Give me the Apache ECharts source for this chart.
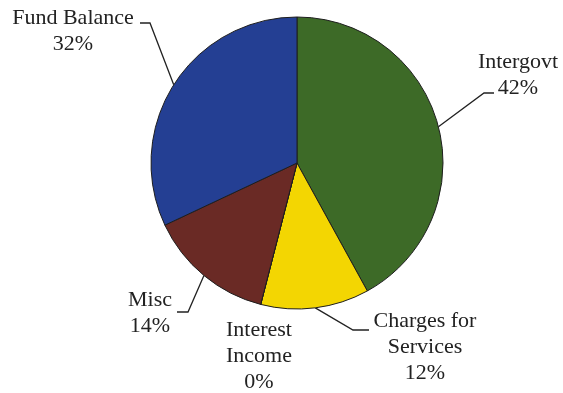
<!DOCTYPE html>
<html>
<head>
<meta charset="utf-8">
<script src="https://cdn.jsdelivr.net/npm/echarts@6/dist/echarts.min.js"></script>
<style>
  html, body { margin: 0; padding: 0; background: #fff; }
  #chart { width: 563px; height: 393px; }
</style>
</head>
<body>
<div id="chart"></div>
<script>
// slices, clockwise from 12 o'clock
const categories = ['Intergovt', 'Charges for\nServices', 'Interest\nIncome', 'Misc', 'Fund Balance'];
const values = [42, 12, 0, 14, 32];
const colors = ['#3d6a27', '#f3d602', '#f3d602', '#6a2a25', '#243f93'];

// where each label sits (block centre) and where its leader meets it
const labelCenter = [[518, 75], [425, 347], [259, 356], [150, 313], [73, 31]];
const leaderEnd = [[-24, 18], [-56, -17], null, [27, -1], [67, -8]];
const elbow = [-10, -16, 0, 11, 10];

let chart = echarts.init(document.getElementById('chart'));

chart.setOption({
  animation: false,
  backgroundColor: '#fff',
  series: [
    {
      type: 'pie',
      center: [297, 163],
      radius: 146,
      startAngle: 90,
      clockwise: true,
      avoidLabelOverlap: false,
      itemStyle: {
        borderColor: '#1e1e1e',
        borderWidth: 1
      },
      label: {
        show: true,
        position: 'outside',
        fontFamily: '"Liberation Serif", "DejaVu Serif", serif',
        fontSize: 22,
        lineHeight: 26,
        color: '#222',
        align: 'center',
        formatter: function (p) {
          return p.name + '\n' + Math.round(p.percent) + '%';
        }
      },
      labelLine: {
        show: true,
        length: 10,
        length2: 10,
        lineStyle: { color: '#222', width: 1.3 }
      },
      labelLayout: function (params) {
        const i = params.dataIndex;
        const c = labelCenter[i];
        const out = { x: c[0], y: c[1], align: 'center', verticalAlign: 'middle' };
        if (leaderEnd[i] && params.labelLinePoints) {
          const a = params.labelLinePoints[0];
          const e = [c[0] + leaderEnd[i][0], c[1] + leaderEnd[i][1]];
          out.labelLinePoints = [a, [e[0] + elbow[i], e[1]], e];
        }
        return out;
      },
      data: categories.map(function (name, i) {
        return {
          name: name,
          value: values[i],
          itemStyle: { color: colors[i] },
          labelLine: { show: i !== 2 }
        };
      })
    }
  ]
});
</script>
</body>
</html>
